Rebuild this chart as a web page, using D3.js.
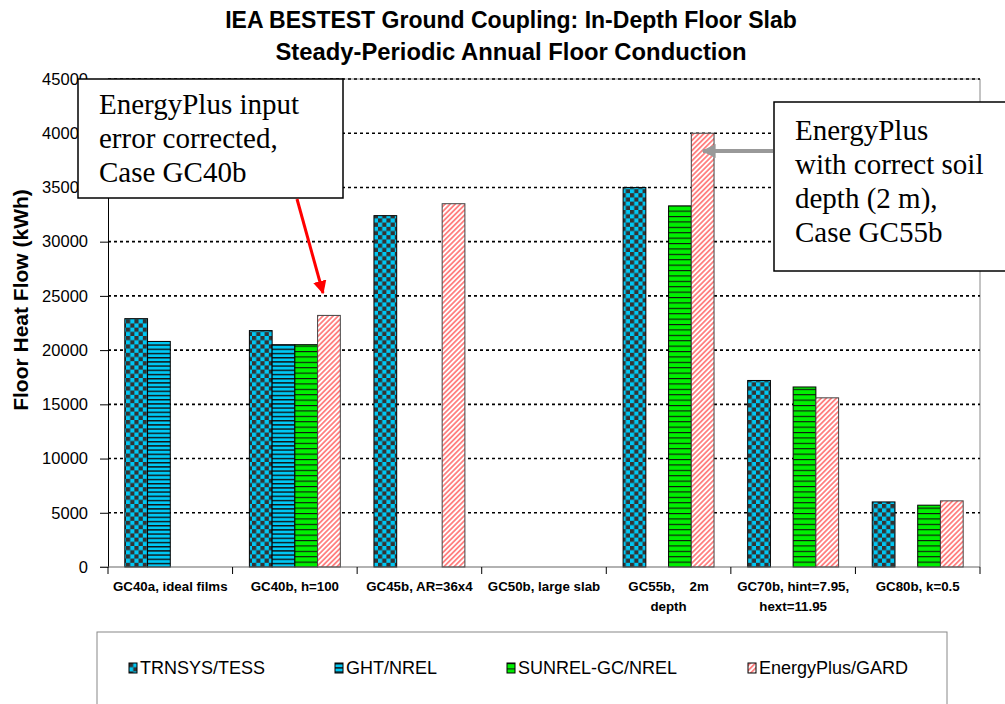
<!DOCTYPE html>
<html>
<head>
<meta charset="utf-8">
<script src="https://cdn.jsdelivr.net/npm/d3@7"></script>
<style>
body { margin: 0; background: #fff; }
svg { display: block; }
</style>
</head>
<body>
<svg id="chart" width="1005" height="704" font-family="Arial, 'Liberation Sans', sans-serif"></svg>
<script>
// categories (second line of a label after "|")
var categories = ["GC40a, ideal films", "GC40b, h=100", "GC45b, AR=36x4", "GC50b, large slab",
                  "GC55b,    2m|depth", "GC70b, hint=7.95,|hext=11.95", "GC80b, k=0.5"];
var seriesNames = ["TRNSYS/TESS", "GHT/NREL", "SUNREL-GC/NREL", "EnergyPlus/GARD"];
// values (kWh), null = no bar
var trnsys     = [22900, 21800, 32400, null, 35000, 17200, 6000];
var ght        = [20800, 20500, null,  null, null,  null,  null];
var sunrel     = [null,  20500, null,  null, 33300, 16600, 5700];
var energyPlus = [null,  23200, 33500, null, 40000, 15600, 6100];
var yTicks = [0, 5000, 10000, 15000, 20000, 25000, 30000, 35000, 40000, 45000];

var titleLines = ["IEA BESTEST Ground Coupling: In-Depth Floor Slab", "Steady-Periodic Annual Floor Conduction"];
var yTitle = "Floor Heat Flow (kWh)";
var note1 = ["EnergyPlus input", "error corrected,", "Case GC40b"];
var note2 = ["EnergyPlus", "with correct soil", "depth (2 m),", "Case GC55b"];

var seriesValues = [trnsys, ght, sunrel, energyPlus];
var seriesFill = ["url(#checker)", "url(#ghtStripe)", "url(#greenStripe)", "url(#redHatch)"];

var svg = d3.select("#chart");
var plotL = 108, plotR = 980, plotT = 79, plotB = 567;

var x0 = d3.scaleBand().domain(categories).range([plotL, plotR]).padding(0);
var x1 = d3.scaleBand().domain(seriesNames).range([0, x0.bandwidth()]).paddingInner(0).paddingOuter(0.74);
var y = d3.scaleLinear().domain([0, 45000]).range([plotB, plotT]);

// patterns
var defs = svg.append("defs");
var chk = defs.append("pattern").attr("id", "checker").attr("patternUnits", "userSpaceOnUse")
  .attr("width", 8.4).attr("height", 8.4);
chk.append("rect").attr("width", 8.4).attr("height", 8.4).attr("fill", "#00c8f4");
chk.append("rect").attr("width", 4.2).attr("height", 4.2).attr("fill", "#333");
chk.append("rect").attr("x", 4.2).attr("y", 4.2).attr("width", 4.2).attr("height", 4.2).attr("fill", "#333");

var gs = defs.append("pattern").attr("id", "ghtStripe").attr("patternUnits", "userSpaceOnUse")
  .attr("width", 8).attr("height", 4.2);
gs.append("rect").attr("width", 8).attr("height", 4.2).attr("fill", "#00c8f4");
gs.append("rect").attr("width", 8).attr("height", 1.4).attr("fill", "#111");

var grs = defs.append("pattern").attr("id", "greenStripe").attr("patternUnits", "userSpaceOnUse")
  .attr("width", 8).attr("height", 5.4);
grs.append("rect").attr("width", 8).attr("height", 5.4).attr("fill", "#00f000");
grs.append("rect").attr("width", 8).attr("height", 1.1).attr("fill", "#111");

var rh = defs.append("pattern").attr("id", "redHatch").attr("patternUnits", "userSpaceOnUse")
  .attr("width", 3.6).attr("height", 10).attr("patternTransform", "rotate(45)");
rh.append("rect").attr("width", 3.6).attr("height", 10).attr("fill", "#fff");
rh.append("line").attr("x1", 1.8).attr("x2", 1.8).attr("y1", 0).attr("y2", 10)
  .attr("stroke", "#ff5050").attr("stroke-width", 1.3);

defs.append("marker").attr("id", "redHead").attr("viewBox", "0 0 10 10").attr("refX", 9).attr("refY", 5)
  .attr("markerWidth", 4.5).attr("markerHeight", 4.5).attr("orient", "auto").attr("markerUnits", "strokeWidth")
  .append("path").attr("d", "M0,0L10,5L0,10z").attr("fill", "#ff0000");
defs.append("marker").attr("id", "grayHead").attr("viewBox", "0 0 10 10").attr("refX", 9).attr("refY", 5)
  .attr("markerWidth", 3.5).attr("markerHeight", 3.5).attr("orient", "auto").attr("markerUnits", "strokeWidth")
  .append("path").attr("d", "M0,0L10,5L0,10z").attr("fill", "#999");

// title
svg.append("g").selectAll("text").data(titleLines).enter().append("text")
  .attr("x", 511).attr("y", function(d, i) { return 28 + i * 32; })
  .attr("text-anchor", "middle").attr("font-weight", "bold")
  .attr("font-size", function(d, i) { return i === 0 ? 23 : 23.8; })
  .text(function(d) { return d; });

// frame
svg.append("path").attr("d", "M" + plotL + "," + plotT + "H" + plotR + "V" + plotB)
  .attr("fill", "none").attr("stroke", "#888").attr("stroke-width", 1);

// gridlines
svg.append("g").selectAll("line").data(yTicks.slice(1)).enter().append("line")
  .attr("x1", plotL).attr("x2", plotR)
  .attr("y1", function(d) { return y(d); }).attr("y2", function(d) { return y(d); })
  .attr("stroke", "#000").attr("stroke-width", 1.6).attr("stroke-dasharray", "3,3");

// bars
seriesNames.forEach(function(s, si) {
  svg.append("g").selectAll("rect")
    .data(seriesValues[si].map(function(v, i) { return { c: categories[i], v: v }; })
      .filter(function(d) { return d.v !== null; }))
    .enter().append("rect")
      .attr("x", function(d) { return x0(d.c) + x1(s); })
      .attr("y", function(d) { return y(d.v); })
      .attr("width", x1.bandwidth())
      .attr("height", function(d) { return y(0) - y(d.v); })
      .attr("fill", seriesFill[si])
      .attr("stroke", si === 3 ? "#444" : "#000").attr("stroke-width", 1);
});

// y axis
var yAxis = svg.append("g").attr("transform", "translate(" + plotL + ",0)")
  .call(d3.axisLeft(y).tickValues(yTicks).tickSizeInner(8).tickSizeOuter(0).tickPadding(12).tickFormat(d3.format("d")));
yAxis.attr("font-family", null).attr("font-size", 16.5);
yAxis.select(".domain").attr("stroke", "#000");
yAxis.selectAll("text").attr("fill", "#000");

// x axis
svg.append("line").attr("x1", 100).attr("x2", plotR).attr("y1", plotB).attr("y2", plotB)
  .attr("stroke", "#666").attr("stroke-width", 1.2);
var bounds = categories.map(function(c) { return x0(c); }).concat([plotR]);
svg.append("g").selectAll("line").data(bounds).enter().append("line")
  .attr("x1", function(d) { return d; }).attr("x2", function(d) { return d; })
  .attr("y1", plotB).attr("y2", plotB + 7).attr("stroke", "#000");
var xl = svg.append("g").selectAll("text").data(categories).enter().append("text")
  .attr("text-anchor", "middle").attr("font-weight", "bold").attr("font-size", 13.3)
  .style("white-space", "pre")
  .attr("transform", function(d) { return "translate(" + (x0(d) + x0.bandwidth() / 2) + "," + 591 + ")"; });
xl.selectAll("tspan").data(function(d) { return d.split("|"); }).enter().append("tspan")
  .attr("x", 0).attr("dy", function(d, i) { return i === 0 ? 0 : 20; })
  .text(function(d) { return d; });

// y title
svg.append("text").attr("transform", "translate(28," + 300 + ") rotate(-90)")
  .attr("text-anchor", "middle").attr("font-weight", "bold").attr("font-size", 21)
  .text(yTitle);

// legend
svg.append("rect").attr("x", 97).attr("y", 632).attr("width", 850).attr("height", 100)
  .attr("fill", "#fff").attr("stroke", "#888");
var legendX = [129, 335, 507, 748];
var lg = svg.append("g").selectAll("g").data(seriesNames).enter().append("g")
  .attr("transform", function(d, i) { return "translate(" + legendX[i] + ",663)"; });
lg.append("rect").attr("width", 8).attr("height", 10).attr("fill", function(d, i) { return seriesFill[i]; })
  .attr("stroke", "#000").attr("stroke-width", 1);
lg.append("text").attr("x", 11).attr("y", 10.5).attr("font-size", 18).text(function(d) { return d; });

// annotations
function note(lines, bx, by, bw, bh, tx, ty) {
  svg.append("rect").attr("x", bx).attr("y", by).attr("width", bw).attr("height", bh)
    .attr("fill", "#fff").attr("stroke", "#000").attr("stroke-width", 1.5);
  svg.append("g").selectAll("text").data(lines).enter().append("text")
    .attr("x", tx).attr("y", function(d, i) { return ty + i * 34; })
    .attr("font-family", "'Liberation Serif', 'Times New Roman', serif").attr("font-size", 29)
    .text(function(d) { return d; });
}
note(note1, 78, 79, 265, 119, 99, 114);
note(note2, 774, 102, 250, 169, 795, 140);

svg.append("line").attr("x1", 297).attr("y1", 199).attr("x2", 323).attr("y2", 293)
  .attr("stroke", "#ff0000").attr("stroke-width", 3).attr("marker-end", "url(#redHead)");
svg.append("line").attr("x1", 773).attr("y1", 151).attr("x2", 703).attr("y2", 151)
  .attr("stroke", "#999").attr("stroke-width", 4).attr("marker-end", "url(#grayHead)");
</script>
</body>
</html>
